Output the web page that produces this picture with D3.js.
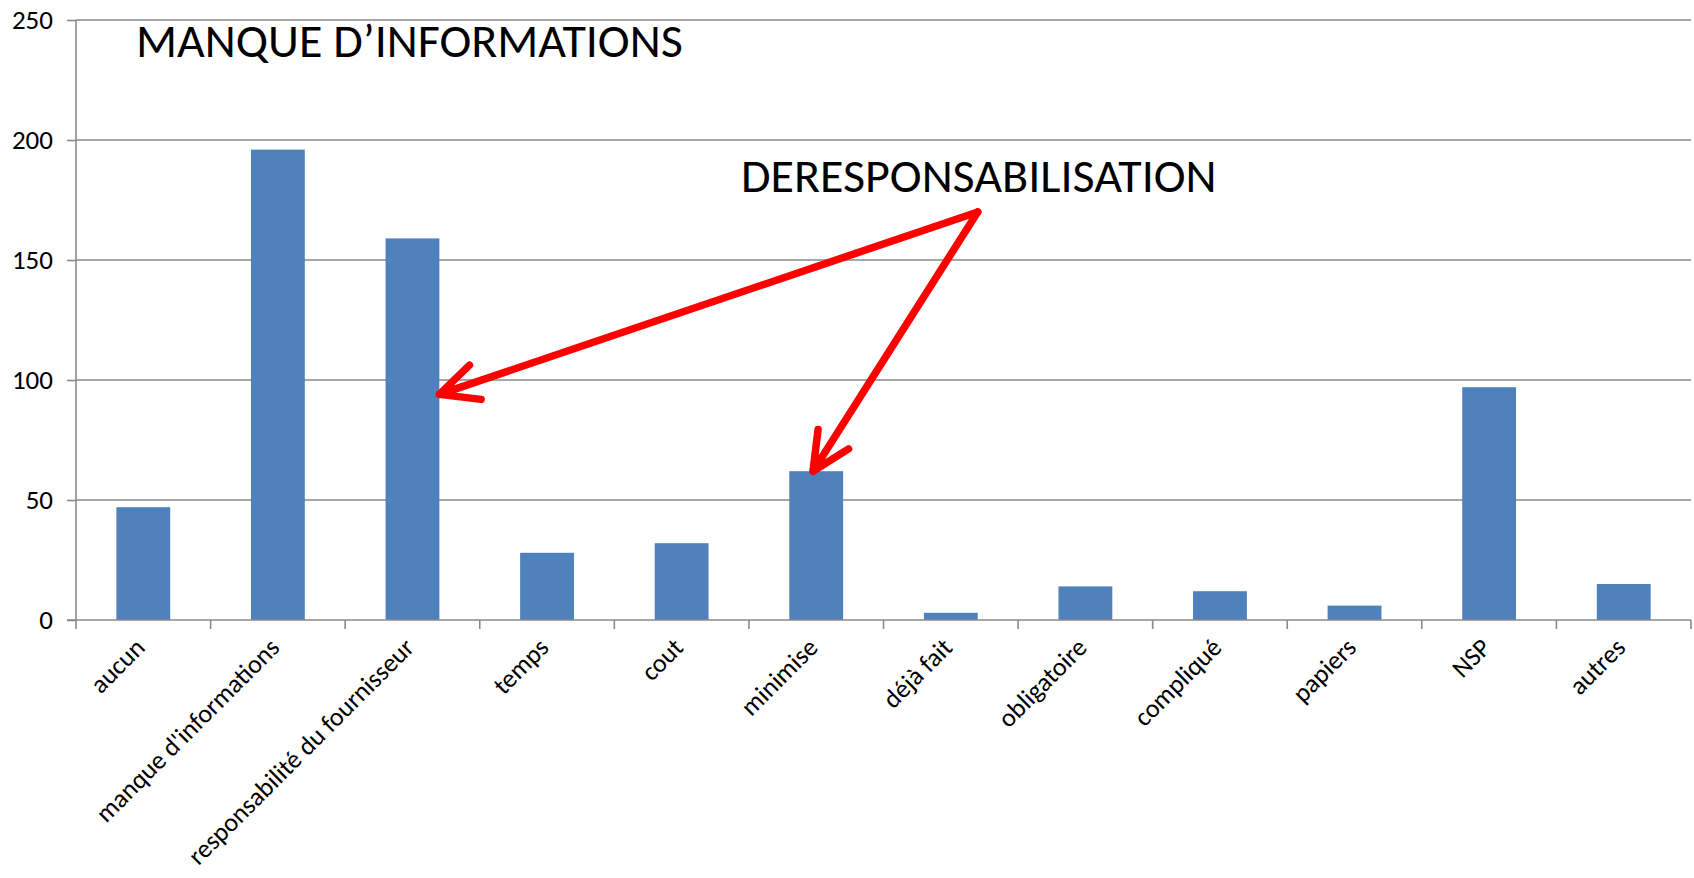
<!DOCTYPE html>
<html lang="fr">
<head>
  <meta charset="UTF-8">
  <title>Manque d'informations</title>
  <style>
    body { margin: 0; background: #fff; }
    svg text { font-family: Carlito, "Open Sans", "Noto Sans", sans-serif; fill: #000; }
  </style>
</head>
<body>
  <script src="https://cdn.jsdelivr.net/npm/d3@7"></script>
  <script>
    const width = 1694
    const height = 878

    // données
    const categories = ["aucun", "manque d'informations", "responsabilité du fournisseur", "temps", "cout",
      "minimise", "déjà fait", "obligatoire", "compliqué", "papiers", "NSP", "autres"]
    const values = [47, 196, 159, 28, 32, 62, 3, 14, 12, 6, 97, 15]
    const yTicks = [0, 50, 100, 150, 200, 250]

    const titleText = "MANQUE D\u2019INFORMATIONS"
    const noteText = "DERESPONSABILISATION"
    // flèches : départ (catégorie, position dans la barre, valeur) -> pointe
    const arrows = [
      { from: ["déjà fait", 1, 170], to: ["responsabilité du fournisseur", 1, 94] },
      { from: ["déjà fait", 1, 170], to: ["minimise", 0.44, 62] }
    ]

    const margin = { left: 76, right: 3, top: 20, bottom: 258 }

    const svg = d3.select("body")
      .append("svg")
      .attr("width", width)
      .attr("height", height)

    const x = d3.scaleBand()
      .domain(categories)
      .range([margin.left, width - margin.right])
      .paddingInner(0.6)
      .paddingOuter(0.3)

    const y = d3.scaleLinear()
      .domain([0, 250])
      .range([height - margin.bottom, margin.top])

    // grille
    svg.append("g")
      .selectAll("line")
      .data(yTicks.slice(1))
      .enter()
      .append("line")
      .attr("x1", margin.left)
      .attr("x2", width - margin.right)
      .attr("y1", d => y(d))
      .attr("y2", d => y(d))
      .attr("stroke", "#8a8a8a")
      .attr("stroke-width", 1.6)

    // barres
    svg.append("g")
      .selectAll("rect")
      .data(values)
      .enter()
      .append("rect")
      .attr("x", (d, i) => x(categories[i]))
      .attr("y", d => y(d))
      .attr("width", x.bandwidth())
      .attr("height", d => y(0) - y(d))
      .attr("fill", "#4f81bd")

    // axe Y
    const yAxis = svg.append("g")
      .attr("transform", "translate(" + margin.left + ",0)")
      .call(d3.axisLeft(y).tickValues(yTicks).tickSize(9).tickPadding(14))
    yAxis.selectAll("path, line").attr("stroke", "#8a8a8a").attr("stroke-width", 1.6)
    yAxis.select(".domain").attr("d", "M0," + y(250) + "V" + y(0))
    yAxis.selectAll("text").style("font-size", "27px")

    // axe X : ligne + graduations entre les catégories
    const x0 = x.range()[0]
    const gx = svg.append("g")
    gx.append("line")
      .attr("x1", x0 - 9)
      .attr("x2", width - margin.right)
      .attr("y1", y(0))
      .attr("y2", y(0))
      .attr("stroke", "#8a8a8a")
      .attr("stroke-width", 1.6)
    gx.selectAll(".tick")
      .data(d3.range(categories.length + 1))
      .enter()
      .append("line")
      .attr("x1", i => x0 + i * x.step())
      .attr("x2", i => x0 + i * x.step())
      .attr("y1", y(0))
      .attr("y2", y(0) + 9)
      .attr("stroke", "#8a8a8a")
      .attr("stroke-width", 1.6)

    gx.selectAll("text")
      .data(categories)
      .enter()
      .append("text")
      .attr("transform", d => "translate(" + (x(d) + x.bandwidth() / 2 - 9) + "," + (y(0) + 17) + ") rotate(-45)")
      .attr("text-anchor", "end")
      .attr("dy", "0.66em")
      .style("font-size", "26px")
      .text(d => d)

    // titres
    svg.append("text")
      .attr("x", 136)
      .attr("y", 57)
      .style("font-size", "48px")
      .text(titleText)

    svg.append("text")
      .attr("x", 741)
      .attr("y", 192)
      .style("font-size", "48px")
      .text(noteText)

    // flèches rouges
    const pt = a => [x(a[0]) + a[1] * x.bandwidth(), y(a[2])]
    const headLen = 42
    const headAng = 25.5 * Math.PI / 180

    svg.append("g")
      .selectAll("path")
      .data(arrows)
      .enter()
      .append("path")
      .attr("d", d => {
        const s = pt(d.from)
        const t = pt(d.to)
        const a = Math.atan2(s[1] - t[1], s[0] - t[0])
        const p = d3.path()
        p.moveTo(s[0], s[1])
        p.lineTo(t[0], t[1])
        p.moveTo(t[0] + headLen * Math.cos(a + headAng), t[1] + headLen * Math.sin(a + headAng))
        p.lineTo(t[0], t[1])
        p.lineTo(t[0] + headLen * Math.cos(a - headAng), t[1] + headLen * Math.sin(a - headAng))
        return p.toString()
      })
      .attr("fill", "none")
      .attr("stroke", "#ff0000")
      .attr("stroke-width", 7.5)
      .attr("stroke-linecap", "round")
      .attr("stroke-linejoin", "round")
  </script>
</body>
</html>
